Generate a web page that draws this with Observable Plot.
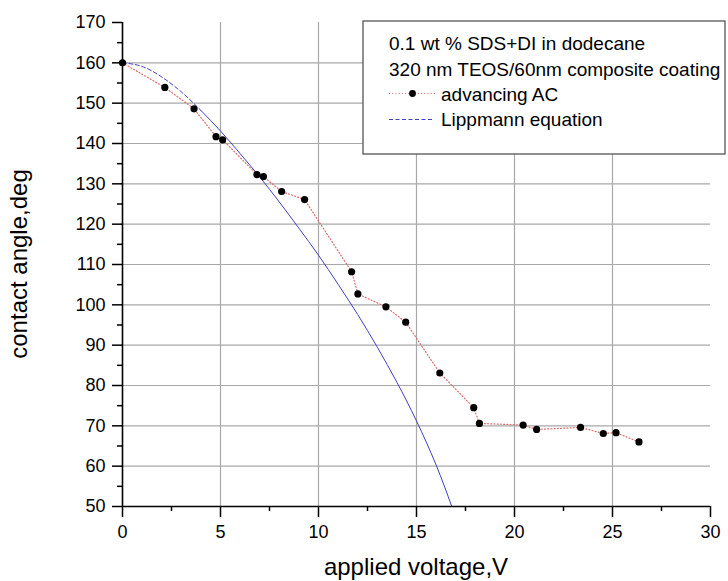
<!DOCTYPE html>
<html><head><meta charset="utf-8">
<script src="https://cdn.jsdelivr.net/npm/d3@7"></script>
<script src="https://cdn.jsdelivr.net/npm/@observablehq/plot@0.6"></script>
<style>body{margin:0;background:#fff;}</style>
</head><body><div id="chart"></div>
<script>
// measured data: advancing contact angle
const voltage = [0, 2.16, 3.65, 4.77, 5.11, 6.86, 7.19, 8.12, 9.29, 11.69, 12.01, 13.44, 14.45, 16.19, 17.92, 18.21, 20.44, 21.13, 23.37, 24.53, 25.18, 26.35];
const angle   = [160, 153.9, 148.6, 141.7, 140.9, 132.3, 131.8, 128.1, 126.1, 108.2, 102.7, 99.5, 95.7, 83.1, 74.5, 70.6, 70.2, 69.1, 69.6, 68.1, 68.3, 66.0];
// Lippmann curve
const lippV = [0, 1, 2, 3, 4, 5, 6, 7, 8, 9, 10, 11, 12, 13, 14, 15, 16, 16.8];
const lippA = [160, 159.1, 156.5, 152.8, 148.2, 143.1, 137.5, 131.7, 125.5, 119.0, 112.3, 105.1, 97.6, 89.5, 80.8, 71.2, 60.3, 50];
const xTicks = [0, 5, 10, 15, 20, 25, 30];
const xMinor = [2.5, 7.5, 12.5, 17.5, 22.5, 27.5];
const yTicks = [50, 60, 70, 80, 90, 100, 110, 120, 130, 140, 150, 160, 170];
const yMinor = [55, 65, 75, 85, 95, 105, 115, 125, 135, 145, 155, 165];
const legendLines = ["0.1 wt % SDS+DI in dodecane", "320 nm TEOS/60nm composite coating"];
const seriesNames = ["advancing AC", "Lippmann equation"];
const xTitle = "applied voltage,V";
const yTitle = "contact angle,deg";

const RED = "#dd6a6a", BLUE = "#4040c4", GRID = "#a8a8a8";
const pts = voltage.map((v, i) => ({v, a: angle[i]}));
const lipp = lippV.map((v, i) => ({v, a: lippA[i]}));

const plot = Plot.plot({
  width: 728, height: 581,
  marginLeft: 122, marginRight: 18, marginTop: 22, marginBottom: 75,
  style: {fontFamily: "'Liberation Sans', Arial, sans-serif", fontSize: "18px", background: "#fff", color: "#000"},
  x: {domain: [0, 30], axis: null},
  y: {domain: [50, 170], axis: null},
  marks: [
    Plot.gridX(xTicks.filter(t => t > 0 && t < 30), {stroke: GRID, strokeOpacity: 1, strokeWidth: 1.2}),
    Plot.gridY(yTicks.filter(t => t > 50 && t < 170), {stroke: GRID, strokeOpacity: 1, strokeWidth: 1.2}),
    Plot.line(lipp.filter(d => d.v <= 4), {x: "v", y: "a", stroke: BLUE, strokeWidth: 1, strokeDasharray: "4,2.5", curve: "natural"}),
    Plot.line(lipp.filter(d => d.v >= 4), {x: "v", y: "a", stroke: BLUE, strokeWidth: 1, curve: "natural"}),
    Plot.line(pts, {x: "v", y: "a", stroke: RED, strokeWidth: 1.2, strokeDasharray: "1,2.2"}),
    Plot.dot(pts, {x: "v", y: "a", r: 3.6, fill: "#000"}),
    Plot.axisX(xTicks, {tickSize: 11, tickPadding: 8, strokeWidth: 1.5, fontSize: 18, label: null}),
    Plot.axisX(xMinor, {tickSize: 5, strokeWidth: 1.5, text: null, label: null}),
    Plot.axisY(yTicks, {tickSize: 10, tickPadding: 7, strokeWidth: 1.5, fontSize: 18, label: null}),
    Plot.axisY(yMinor, {tickSize: 5, strokeWidth: 1.5, text: null, label: null}),
    Plot.ruleY([50], {stroke: "#000", strokeWidth: 1.6}),
    Plot.ruleX([0], {stroke: "#000", strokeWidth: 1.6})
  ]
});
document.getElementById("chart").append(plot);

const svg = d3.select(plot);
const font = "'Liberation Sans', Arial, sans-serif";
// axis titles
svg.append("text").attr("x", 416).attr("y", 575).attr("text-anchor", "middle")
  .attr("font-family", font).attr("font-size", 24).attr("fill", "#000").text(xTitle);
svg.append("text").attr("transform", "translate(27,264) rotate(-90)").attr("text-anchor", "middle")
  .attr("font-family", font).attr("font-size", 24).attr("fill", "#000").text(yTitle);
// legend box
const lg = svg.append("g").attr("text-anchor", "start");
lg.append("rect").attr("x", 363).attr("y", 21).attr("width", 362).attr("height", 133)
  .attr("fill", "#fff").attr("stroke", "#555").attr("stroke-width", 1.3);
legendLines.forEach((t, i) => {
  lg.append("text").attr("x", 389).attr("y", 50 + i * 25.5).attr("text-anchor", "start").attr("font-family", font)
    .attr("font-size", 19).attr("fill", "#000").text(t);
});
lg.append("line").attr("x1", 389).attr("x2", 435).attr("y1", 93.5).attr("y2", 93.5)
  .attr("stroke", RED).attr("stroke-width", 1.2).attr("stroke-dasharray", "1,2.2");
lg.append("circle").attr("cx", 412.5).attr("cy", 93.5).attr("r", 3.4).attr("fill", "#000");
lg.append("text").attr("x", 441).attr("y", 101).attr("text-anchor", "start").attr("font-family", font).attr("font-size", 19).attr("fill", "#000").text(seriesNames[0]);
lg.append("line").attr("x1", 389).attr("x2", 433).attr("y1", 119.5).attr("y2", 119.5)
  .attr("stroke", BLUE).attr("stroke-width", 1).attr("stroke-dasharray", "4,2.5");
lg.append("text").attr("x", 441).attr("y", 125.5).attr("text-anchor", "start").attr("font-family", font).attr("font-size", 19).attr("fill", "#000").text(seriesNames[1]);
</script>
</body></html>
